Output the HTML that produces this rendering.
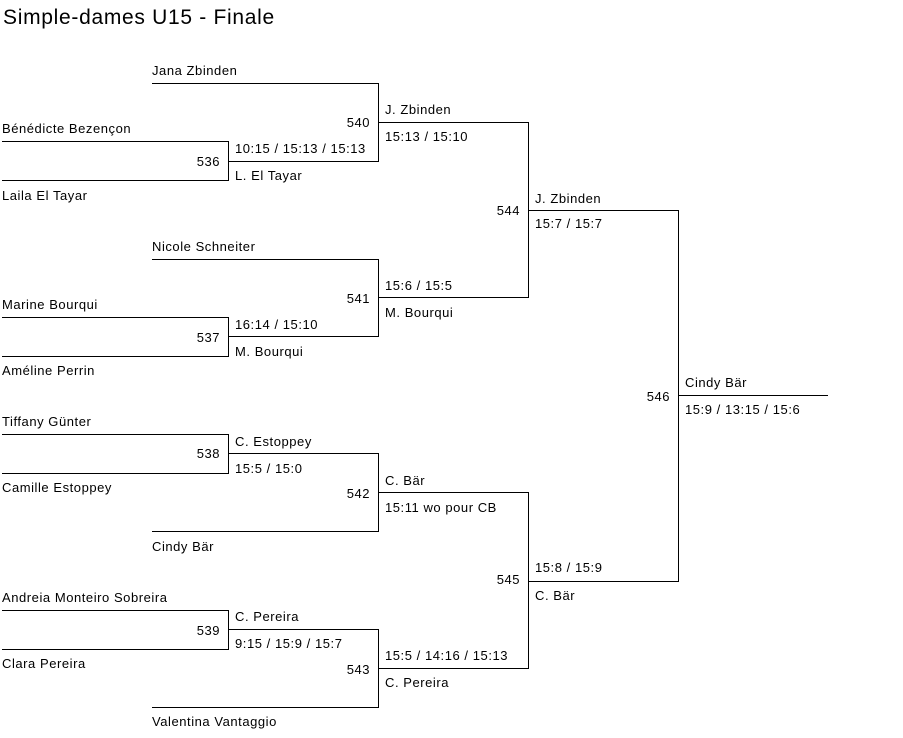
<!DOCTYPE html>
<html><head><meta charset="utf-8"><style>
body{margin:0;width:903px;height:738px;background:#fff;position:relative;font-family:"Liberation Sans",Arial,sans-serif;font-size:13px;color:#000;overflow:hidden}
.h{position:absolute;height:1px;background:#000}
.v{position:absolute;width:1px;background:#000}
.t{position:absolute;white-space:nowrap;line-height:15px;letter-spacing:0.55px}
.n{position:absolute;white-space:nowrap;line-height:15px;text-align:right;width:40px;letter-spacing:0.5px}
</style></head><body>
<div class="t" style="left:3px;top:6px;font-size:21px;line-height:24px;letter-spacing:0.7px">Simple-dames U15 - Finale</div>

<div class="h" style="left:152px;top:83px;width:226px"></div><div class="t" style="left:152px;top:63px">Jana Zbinden</div>
<div class="h" style="left:2px;top:141px;width:226px"></div><div class="t" style="left:2px;top:121px">Bénédicte Bezençon</div>
<div class="h" style="left:2px;top:180px;width:226px"></div><div class="t" style="left:2px;top:188px">Laila El Tayar</div>
<div class="v" style="left:228px;top:141px;height:40px"></div><div class="n" style="left:180px;top:154px">536</div>
<div class="h" style="left:228px;top:161px;width:150px"></div><div class="t" style="left:235px;top:141px">10:15 / 15:13 / 15:13</div><div class="t" style="left:235px;top:168px">L. El Tayar</div>
<div class="v" style="left:378px;top:83px;height:79px"></div><div class="n" style="left:330px;top:115px">540</div>
<div class="h" style="left:378px;top:122px;width:150px"></div><div class="t" style="left:385px;top:102px">J. Zbinden</div><div class="t" style="left:385px;top:129px">15:13 / 15:10</div>

<div class="h" style="left:152px;top:259px;width:226px"></div><div class="t" style="left:152px;top:239px">Nicole Schneiter</div>
<div class="h" style="left:2px;top:317px;width:226px"></div><div class="t" style="left:2px;top:297px">Marine Bourqui</div>
<div class="h" style="left:2px;top:356px;width:226px"></div><div class="t" style="left:2px;top:363px">Améline Perrin</div>
<div class="v" style="left:228px;top:317px;height:40px"></div><div class="n" style="left:180px;top:330px">537</div>
<div class="h" style="left:228px;top:336px;width:150px"></div><div class="t" style="left:235px;top:317px">16:14 / 15:10</div><div class="t" style="left:235px;top:344px">M. Bourqui</div>
<div class="v" style="left:378px;top:259px;height:78px"></div><div class="n" style="left:330px;top:291px">541</div>
<div class="h" style="left:378px;top:297px;width:150px"></div><div class="t" style="left:385px;top:278px">15:6 / 15:5</div><div class="t" style="left:385px;top:305px">M. Bourqui</div>

<div class="v" style="left:528px;top:122px;height:176px"></div><div class="n" style="left:480px;top:203px">544</div>
<div class="h" style="left:528px;top:210px;width:150px"></div><div class="t" style="left:535px;top:191px">J. Zbinden</div><div class="t" style="left:535px;top:216px">15:7 / 15:7</div>

<div class="h" style="left:2px;top:434px;width:226px"></div><div class="t" style="left:2px;top:414px">Tiffany Günter</div>
<div class="h" style="left:2px;top:473px;width:226px"></div><div class="t" style="left:2px;top:480px">Camille Estoppey</div>
<div class="v" style="left:228px;top:434px;height:40px"></div><div class="n" style="left:180px;top:446px">538</div>
<div class="h" style="left:228px;top:453px;width:150px"></div><div class="t" style="left:235px;top:434px">C. Estoppey</div><div class="t" style="left:235px;top:461px">15:5 / 15:0</div>
<div class="h" style="left:152px;top:531px;width:226px"></div><div class="t" style="left:152px;top:539px">Cindy Bär</div>
<div class="v" style="left:378px;top:453px;height:79px"></div><div class="n" style="left:330px;top:486px">542</div>
<div class="h" style="left:378px;top:492px;width:150px"></div><div class="t" style="left:385px;top:473px">C. Bär</div><div class="t" style="left:385px;top:500px">15:11 wo pour CB</div>

<div class="h" style="left:2px;top:610px;width:226px"></div><div class="t" style="left:2px;top:590px">Andreia Monteiro Sobreira</div>
<div class="h" style="left:2px;top:649px;width:226px"></div><div class="t" style="left:2px;top:656px">Clara Pereira</div>
<div class="v" style="left:228px;top:610px;height:40px"></div><div class="n" style="left:180px;top:623px">539</div>
<div class="h" style="left:228px;top:629px;width:150px"></div><div class="t" style="left:235px;top:609px">C. Pereira</div><div class="t" style="left:235px;top:636px">9:15 / 15:9 / 15:7</div>
<div class="h" style="left:152px;top:707px;width:226px"></div><div class="t" style="left:152px;top:714px">Valentina Vantaggio</div>
<div class="v" style="left:378px;top:629px;height:79px"></div><div class="n" style="left:330px;top:662px">543</div>
<div class="h" style="left:378px;top:668px;width:150px"></div><div class="t" style="left:385px;top:648px">15:5 / 14:16 / 15:13</div><div class="t" style="left:385px;top:675px">C. Pereira</div>

<div class="v" style="left:528px;top:492px;height:177px"></div><div class="n" style="left:480px;top:572px">545</div>
<div class="h" style="left:528px;top:581px;width:150px"></div><div class="t" style="left:535px;top:560px">15:8 / 15:9</div><div class="t" style="left:535px;top:588px">C. Bär</div>

<div class="v" style="left:678px;top:210px;height:372px"></div><div class="n" style="left:630px;top:389px">546</div>
<div class="h" style="left:678px;top:395px;width:150px"></div><div class="t" style="left:685px;top:375px">Cindy Bär</div><div class="t" style="left:685px;top:402px">15:9 / 13:15 / 15:6</div>
</body></html>
